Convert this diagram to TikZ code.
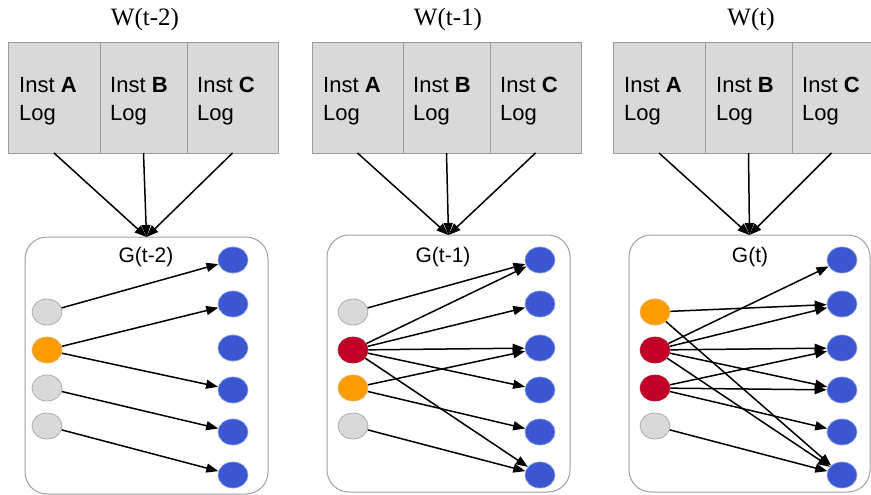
\documentclass[tikz,border=0pt]{standalone}
\usepackage{fontspec}
\setsansfont{Liberation Sans}
\newfontfamily\titleserif{Liberation Serif}
\usetikzlibrary{arrows.meta,shapes.geometric}
\definecolor{boxgray}{HTML}{D9D9D9}
\definecolor{boxedge}{HTML}{9C9C9C}
\definecolor{gedge}{HTML}{A0A0A0}
\definecolor{nblue}{HTML}{3A56D0}
\definecolor{nred}{HTML}{C00025}
\definecolor{norange}{HTML}{FF9C00}
\definecolor{ngray}{HTML}{D9D9D9}
\begin{document}
\begin{tikzpicture}[x=1pt,y=-1pt,
  logbox/.style={draw=boxedge,fill=boxgray,line width=1pt,inner sep=0pt,outer sep=0pt,anchor=north west,minimum height=110pt},
  logtxt/.style={font=\sffamily\fontsize{22}{28}\selectfont,align=left,inner sep=0pt,anchor=north west},
  wtitle/.style={font=\titleserif\fontsize{25}{28}\selectfont,inner sep=0pt},
  gtitle/.style={font=\sffamily\fontsize{21}{24}\selectfont,inner sep=0pt},
  gbox/.style={draw=gedge,line width=1pt,rounded corners=22pt,inner sep=0pt,outer sep=0pt,anchor=north west,minimum width=243pt,minimum height=257pt},
  vtx/.style={ellipse,minimum width=30pt,minimum height=26pt,inner sep=0pt,line width=0.7pt},
  gv/.style={vtx,fill=ngray,draw=gray!70},
  ov/.style={vtx,fill=norange,draw=norange!80!black!60},
  rv/.style={vtx,fill=nred,draw=nred!80!gray},
  bv/.style={vtx,fill=nblue,draw=nblue!60!white},
  arr/.style={-{Triangle[length=12pt,width=9pt]},line width=1.5pt,black},
]
\useasboundingbox (0,0) rectangle (871,495);

% ---------------- Panel 1 ----------------
\node[wtitle] (w1) at (145,19) {W(t-2)};
\node[logbox,minimum width=92pt] (p1a) at (8,43) {};
\node[logbox,minimum width=87pt] (p1b) at (100,43) {};
\node[logbox,minimum width=91pt] (p1c) at (187,43) {};
\node[logtxt] (p1at) at (19,77) {Inst \textbf{A}\\Log};
\node[logtxt] (p1bt) at (110,77) {Inst \textbf{B}\\Log};
\node[logtxt] (p1ct) at (197,77) {Inst \textbf{C}\\Log};
\node[gbox] (g1) at (25,237) {};
\draw[arr] (p1a.south) -- (g1.north);
\draw[arr] (p1b.south) -- (g1.north);
\draw[arr] (p1c.south) -- (g1.north);
\node[gtitle] (gt1) at (146,257) {G(t-2)};
\node[gv] (p1l1) at (47,312) {};
\node[ov] (p1l2) at (47,350) {};
\node[gv] (p1l3) at (47,388) {};
\node[gv] (p1l4) at (47,426) {};
\foreach \i/\y in {1/260,2/304,3/348,4/390,5/432,6/475}
  \node[bv] (p1r\i) at (233,\y) {};
\draw[arr] (p1l1) -- (p1r1);
\draw[arr] (p1l2) -- (p1r2);
\draw[arr] (p1l2) -- (p1r4);
\draw[arr] (p1l3) -- (p1r5);
\draw[arr] (p1l4) -- (p1r6);

% ---------------- Panel 2 ----------------
\node[wtitle] (w2) at (448,19) {W(t-1)};
\node[logbox,minimum width=91pt] (p2a) at (312,43) {};
\node[logbox,minimum width=87pt] (p2b) at (403,43) {};
\node[logbox,minimum width=91pt] (p2c) at (490,43) {};
\node[logtxt] (p2at) at (323,77) {Inst \textbf{A}\\Log};
\node[logtxt] (p2bt) at (413,77) {Inst \textbf{B}\\Log};
\node[logtxt] (p2ct) at (500,77) {Inst \textbf{C}\\Log};
\node[gbox] (g2) at (327,235) {};
\draw[arr] (p2a.south) -- (g2.north);
\draw[arr] (p2b.south) -- (g2.north);
\draw[arr] (p2c.south) -- (g2.north);
\node[gtitle] (gt2) at (443,257) {G(t-1)};
\node[gv] (p2l1) at (353,312) {};
\node[rv] (p2l2) at (353,350) {};
\node[ov] (p2l3) at (353,388) {};
\node[gv] (p2l4) at (353,426) {};
\foreach \i/\y in {1/260,2/304,3/348,4/390,5/432,6/475}
  \node[bv] (p2r\i) at (540,\y) {};
\draw[arr] (p2l1) -- (p2r1);
\draw[arr] (p2l2) -- (p2r1);
\draw[arr] (p2l2) -- (p2r2);
\draw[arr] (p2l2) -- (p2r3);
\draw[arr] (p2l2) -- (p2r4);
\draw[arr] (p2l2) -- (p2r6);
\draw[arr] (p2l3) -- (p2r3);
\draw[arr] (p2l3) -- (p2r5);
\draw[arr] (p2l4) -- (p2r6);

% ---------------- Panel 3 ----------------
\node[wtitle] (w3) at (751,19) {W(t)};
\node[logbox,minimum width=92pt] (p3a) at (613,43) {};
\node[logbox,minimum width=87pt] (p3b) at (705,43) {};
\node[logbox,minimum width=79pt] (p3c) at (792,43) {};
\node[logtxt] (p3at) at (624,77) {Inst \textbf{A}\\Log};
\node[logtxt] (p3bt) at (716,77) {Inst \textbf{B}\\Log};
\node[logtxt] (p3ct) at (802,77) {Inst \textbf{C}\\Log};
\node[gbox,minimum width=241pt] (g3) at (629,235) {};
\draw[arr] (p3a.south) -- (g3.north);
\draw[arr] (p3b.south) -- (g3.north);
\draw[arr] (p3c.south) -- (g3.north);
\node[gtitle] (gt3) at (750,257) {G(t)};
\node[ov] (p3l1) at (655,312) {};
\node[rv] (p3l2) at (655,350) {};
\node[rv] (p3l3) at (655,388) {};
\node[gv] (p3l4) at (655,426) {};
\foreach \i/\y in {1/260,2/304,3/348,4/390,5/432,6/475}
  \node[bv] (p3r\i) at (842,\y) {};
\draw[arr] (p3l1) -- (p3r2);
\draw[arr] (p3l1) -- (p3r6);
\draw[arr] (p3l2) -- (p3r1);
\draw[arr] (p3l2) -- (p3r2);
\draw[arr] (p3l2) -- (p3r3);
\draw[arr] (p3l2) -- (p3r4);
\draw[arr] (p3l2) -- (p3r6);
\draw[arr] (p3l3) -- (p3r3);
\draw[arr] (p3l3) -- (p3r4);
\draw[arr] (p3l3) -- (p3r5);
\draw[arr] (p3l4) -- (p3r6);
\end{tikzpicture}
\end{document}
